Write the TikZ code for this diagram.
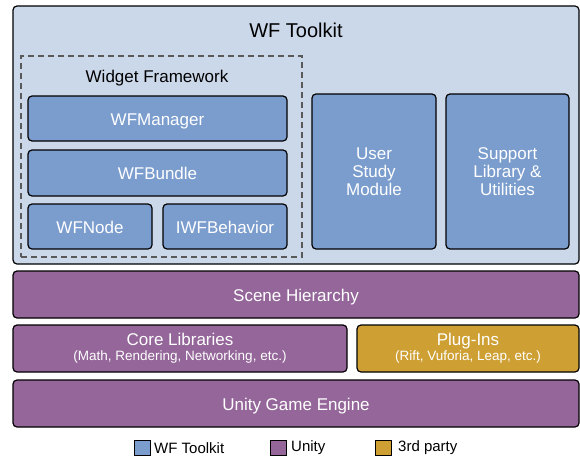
\documentclass[tikz,border=0pt]{standalone}
\usepackage{fontspec}
\setmainfont{Liberation Sans}
\definecolor{tkback}{RGB}{203,216,234}
\definecolor{tkblue}{RGB}{123,157,205}
\definecolor{unitypurple}{RGB}{148,102,153}
\definecolor{thirdgold}{RGB}{206,160,52}
\begin{document}
\begin{tikzpicture}[x=1pt,y=-1pt]
            \tikzset{block/.style = {shape=rectangle, rounded corners=4pt, draw=black, line width=1.2pt, inner sep=0pt, outer sep=0pt, text=white, align=center, font=\fontsize{17}{18}\selectfont}}
            \tikzset{oneline/.style = {text height=14.5pt, text depth=1.5pt}}
            \tikzset{wf/.style = {block, fill=tkblue}}
            \tikzset{unity/.style = {block, fill=unitypurple}}
            \tikzset{third/.style = {block, fill=thirdgold}}
            \tikzset{swatch/.style = {shape=rectangle, draw=black, line width=1pt, minimum width=16pt, minimum height=15pt, inner sep=0pt}}
            \tikzset{legendtext/.style = {anchor=west, inner sep=0pt, font=\fontsize{15}{16}\selectfont}}
            \useasboundingbox (0,0) rectangle (580,460);
            % toolkit frame
            \node[block, fill=tkback, minimum width=566pt, minimum height=258pt] (toolkit) at (296,135) {};
            \node[font=\fontsize{20}{22}\selectfont] (tktitle) at (296,30) {WF Toolkit};
            \node[draw=black!65, dashed, dash pattern=on 6pt off 4pt, line width=1.2pt, minimum width=281pt, minimum height=201pt, inner sep=0pt] (framework) at (161.5,156.5) {};
            \node[font=\fontsize{17}{18}\selectfont] (fwtitle) at (157,78) {Widget Framework};
            % toolkit parts
            \node[wf, oneline, minimum width=259pt, minimum height=45pt] (manager) at (157.5,118.5) {WFManager};
            \node[wf, oneline, minimum width=259pt, minimum height=46pt] (bundle) at (157.5,173) {WFBundle};
            \node[wf, oneline, minimum width=124pt, minimum height=45pt] (wfnode) at (90,226.5) {WFNode};
            \node[wf, oneline, minimum width=124pt, minimum height=45pt] (behavior) at (225,226.5) {IWFBehavior};
            \node[wf, minimum width=124pt, minimum height=155pt] (study) at (374,171.5) {User\\Study\\Module};
            \node[wf, minimum width=123pt, minimum height=155pt] (support) at (507.5,171.5) {Support\\Library \&\\Utilities};
            % unity layers
            \node[unity, oneline, minimum width=566pt, minimum height=47pt] (scene) at (296,294.5) {Scene Hierarchy};
            \node[unity, minimum width=334pt, minimum height=47pt, font=\fontsize{17}{15}\selectfont] (core) at (180,348.5) {Core Libraries\\{\fontsize{13.5}{15}\selectfont (Math, Rendering, Networking, etc.)}};
            \node[third, minimum width=222pt, minimum height=47pt, font=\fontsize{17}{15}\selectfont] (plugins) at (468,348.5) {Plug-Ins\\{\fontsize{13.5}{15}\selectfont (Rift, Vuforia, Leap, etc.)}};
            \node[unity, oneline, minimum width=566pt, minimum height=47pt] (engine) at (296,403.5) {Unity Game Engine};
            % legend
            \node[swatch, fill=tkblue] (keywf) at (142,447.5) {};
            \node[legendtext] (keywftext) at (154,448) {WF Toolkit};
            \node[swatch, fill=unitypurple] (keyunity) at (278.5,447.5) {};
            \node[legendtext] (keyunitytext) at (291,448) {Unity};
            \node[swatch, fill=thirdgold] (keythird) at (383,447.5) {};
            \node[legendtext] (keythirdtext) at (398,448) {3rd party};
        \end{tikzpicture}
\end{document}
